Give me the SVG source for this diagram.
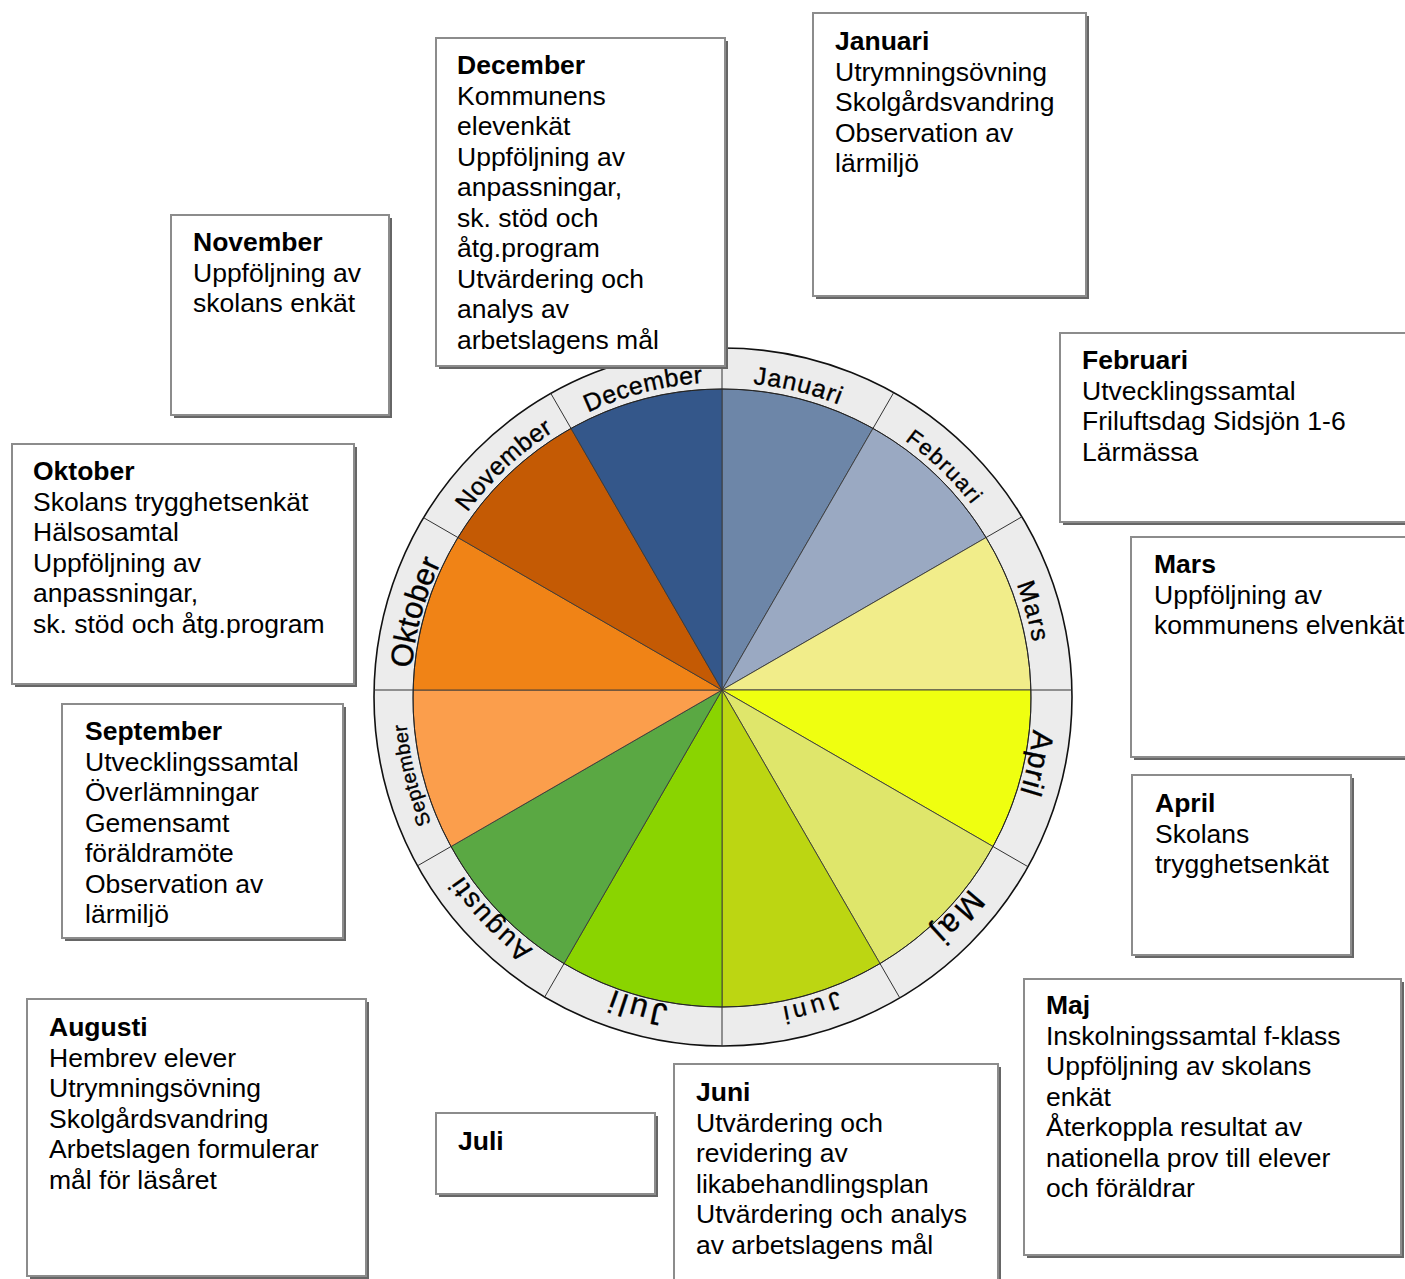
<svg xmlns="http://www.w3.org/2000/svg" xmlns:xlink="http://www.w3.org/1999/xlink" width="1405" height="1279" viewBox="0 0 1405 1279">
<style>
.box{fill:#fff;stroke:#8c8c8c;stroke-width:2}
.shadow{fill:#666}
.bt{font-family:"Liberation Sans",Arial,sans-serif;font-size:26.5px;fill:#000}
.bt .h{font-weight:bold}
.slice{stroke:#3a3a3a;stroke-width:0.9}
.div{stroke:#333;stroke-width:1}
.lbl{font-family:"Liberation Sans",Arial,sans-serif;fill:#000;stroke:#000;stroke-width:0.35;text-anchor:middle}
</style>
<defs>
<path id="r312" d="M722.5,385.5 A312,312 0 1 1 722.5,1009.5 A312,312 0 1 1 722.5,385.5"/>
<path id="r315" d="M722.5,382.5 A315,315 0 1 1 722.5,1012.5 A315,315 0 1 1 722.5,382.5"/>
<path id="r317" d="M722.5,380.5 A317,317 0 1 1 722.5,1014.5 A317,317 0 1 1 722.5,380.5"/>
<clipPath id="clipSep"><rect x="62" y="704" width="281" height="223"/></clipPath>
</defs>
<rect width="1405" height="1279" fill="#fff"/>

<g id="wheel">
<circle cx="723" cy="697" r="349" fill="#ececec" stroke="#111" stroke-width="1.6"/>
<g id="slices" class="slice">
<path id="s-jan" fill="#6d86a8" d="M722,690 L722,389 A309,309 0 0 1 873,428.4 Z"/>
<path id="s-feb" fill="#9aa9c2" d="M722,690 L873,428.4 A309,309 0 0 1 986.1,537.5 Z"/>
<path id="s-mar" fill="#f1ed8a" d="M722,690 L986.1,537.5 A309,309 0 0 1 1030.9,690 Z"/>
<path id="s-apr" fill="#efff10" d="M722,690 L1030.9,690 A309,309 0 0 1 993,846.5 Z"/>
<path id="s-maj" fill="#dfe66b" d="M722,690 L993,846.5 A309,309 0 0 1 880,963.6 Z"/>
<path id="s-jun" fill="#bcd612" d="M722,690 L880,963.6 A309,309 0 0 1 722,1007 Z"/>
<path id="s-jul" fill="#8ad400" d="M722,690 L722,1007 A309,309 0 0 1 564,963.6 Z"/>
<path id="s-aug" fill="#5aa843" d="M722,690 L564,963.6 A309,309 0 0 1 451,846.5 Z"/>
<path id="s-sep" fill="#fb9e4c" d="M722,690 L451,846.5 A309,309 0 0 1 413.1,690 Z"/>
<path id="s-okt" fill="#f08316" d="M722,690 L413.1,690 A309,309 0 0 1 457.9,537.5 Z"/>
<path id="s-nov" fill="#c45a04" d="M722,690 L457.9,537.5 A309,309 0 0 1 571,428.4 Z"/>
<path id="s-dec" fill="#34578a" d="M722,690 L571,428.4 A309,309 0 0 1 722,389 Z"/>
</g>
<circle cx="722" cy="698" r="309" fill="none" stroke="#222" stroke-width="1"/>
<g id="ring-dividers" class="div">
<line x1="722" y1="389" x2="722" y2="348"/>
<line x1="873" y1="428.4" x2="893.7" y2="392.6"/>
<line x1="986.1" y1="537.5" x2="1021.9" y2="516.8"/>
<line x1="1030.9" y1="690" x2="1071.9" y2="690"/>
<line x1="993" y1="846.5" x2="1028" y2="866.7"/>
<line x1="880" y1="963.6" x2="899.8" y2="997.9"/>
<line x1="722" y1="1007" x2="722" y2="1046"/>
<line x1="564" y1="963.6" x2="544.7" y2="997"/>
<line x1="451" y1="846.5" x2="417.5" y2="865.8"/>
<line x1="413.1" y1="690" x2="374.1" y2="690"/>
<line x1="457.9" y1="537.5" x2="423.6" y2="517.7"/>
<line x1="571" y1="428.4" x2="550.8" y2="393.4"/>
</g>
<g id="ring-labels" class="lbl">
<text font-size="25" letter-spacing="1"><textPath href="#r315" xlink:href="#r315" startOffset="3.8%">Januari</textPath></text>
<text font-size="22" letter-spacing="1.5"><textPath href="#r315" xlink:href="#r315" startOffset="12.2%">Februari</textPath></text>
<text font-size="25" letter-spacing="1.5"><textPath href="#r315" xlink:href="#r315" startOffset="20.7%">Mars</textPath></text>
<text font-size="30" letter-spacing="1"><textPath href="#r312" xlink:href="#r312" startOffset="28.3%">April</textPath></text>
<text font-size="32" letter-spacing="3"><textPath href="#r312" xlink:href="#r312" startOffset="37%">Maj</textPath></text>
<text font-size="25" letter-spacing="4"><textPath href="#r315" xlink:href="#r315" startOffset="45.6%">Juni</textPath></text>
<text font-size="32" letter-spacing="3"><textPath href="#r312" xlink:href="#r312" startOffset="54.3%">Juli</textPath></text>
<text font-size="27" letter-spacing="2"><textPath href="#r315" xlink:href="#r315" startOffset="62.9%">Augusti</textPath></text>
<text font-size="20" letter-spacing="0.5"><textPath href="#r317" xlink:href="#r317" startOffset="71.1%">September</textPath></text>
<text font-size="31" letter-spacing="0"><textPath href="#r312" xlink:href="#r312" startOffset="79.3%">Oktober</textPath></text>
<text font-size="25" letter-spacing="0.5"><textPath href="#r315" xlink:href="#r315" startOffset="88%">November</textPath></text>
<text font-size="25" letter-spacing="0.5"><textPath href="#r315" xlink:href="#r315" startOffset="96%">December</textPath></text>
</g>
</g>

<g id="connectors"></g>

<g id="box-januari">
<rect class="shadow" x="816" y="16" width="273" height="283"/>
<rect class="box" x="813" y="13" width="273" height="283"/>
<text class="bt" x="835" y="50"><tspan class="h">Januari</tspan><tspan x="835" dy="30.5">Utrymningsövning</tspan><tspan x="835" dy="30.5">Skolgårdsvandring</tspan><tspan x="835" dy="30.5">Observation av</tspan><tspan x="835" dy="30.5">lärmiljö</tspan></text>
</g>

<g id="box-december">
<rect class="shadow" x="439" y="41" width="289" height="328"/>
<rect class="box" x="436" y="38" width="289" height="328"/>
<text class="bt" x="457" y="74"><tspan class="h">December</tspan><tspan x="457" dy="30.5">Kommunens</tspan><tspan x="457" dy="30.5">elevenkät</tspan><tspan x="457" dy="30.5">Uppföljning av</tspan><tspan x="457" dy="30.5">anpassningar,</tspan><tspan x="457" dy="30.5">sk. stöd och</tspan><tspan x="457" dy="30.5">åtg.program</tspan><tspan x="457" dy="30.5">Utvärdering och</tspan><tspan x="457" dy="30.5">analys av</tspan><tspan x="457" dy="30.5">arbetslagens mål</tspan></text>
</g>

<g id="box-november">
<rect class="shadow" x="174" y="218" width="218" height="200"/>
<rect class="box" x="171" y="215" width="218" height="200"/>
<text class="bt" x="193" y="251"><tspan class="h">November</tspan><tspan x="193" dy="30.5">Uppföljning av</tspan><tspan x="193" dy="30.5">skolans enkät</tspan></text>
</g>

<g id="box-oktober">
<rect class="shadow" x="15" y="447" width="342" height="240"/>
<rect class="box" x="12" y="444" width="342" height="240"/>
<text class="bt" x="33" y="480"><tspan class="h">Oktober</tspan><tspan x="33" dy="30.5">Skolans trygghetsenkät</tspan><tspan x="33" dy="30.5">Hälsosamtal</tspan><tspan x="33" dy="30.5">Uppföljning av</tspan><tspan x="33" dy="30.5">anpassningar,</tspan><tspan x="33" dy="30.5">sk. stöd och åtg.program</tspan></text>
</g>

<g id="box-september">
<rect class="shadow" x="65" y="707" width="281" height="234"/>
<rect class="box" x="62" y="704" width="281" height="234"/>
<text class="bt" x="85" y="740" clip-path="url(#clipSep)"><tspan class="h">September</tspan><tspan x="85" dy="30.5">Utvecklingssamtal</tspan><tspan x="85" dy="30.5">Överlämningar</tspan><tspan x="85" dy="30.5">Gemensamt</tspan><tspan x="85" dy="30.5">föräldramöte</tspan><tspan x="85" dy="30.5">Observation av</tspan><tspan x="85" dy="30.5">lärmiljö</tspan></text>
</g>

<g id="box-augusti">
<rect class="shadow" x="30" y="1002" width="339" height="277"/>
<rect class="box" x="27" y="999" width="339" height="277"/>
<text class="bt" x="49" y="1036"><tspan class="h">Augusti</tspan><tspan x="49" dy="30.5">Hembrev elever</tspan><tspan x="49" dy="30.5">Utrymningsövning</tspan><tspan x="49" dy="30.5">Skolgårdsvandring</tspan><tspan x="49" dy="30.5">Arbetslagen formulerar</tspan><tspan x="49" dy="30.5">mål för läsåret</tspan></text>
</g>

<g id="box-juli">
<rect class="shadow" x="439" y="1116" width="219" height="81"/>
<rect class="box" x="436" y="1113" width="219" height="81"/>
<text class="bt" x="458" y="1150"><tspan class="h">Juli</tspan></text>
</g>

<g id="box-juni">
<rect class="shadow" x="677" y="1067" width="324" height="230"/>
<rect class="box" x="674" y="1064" width="324" height="230"/>
<text class="bt" x="696" y="1101"><tspan class="h">Juni</tspan><tspan x="696" dy="30.5">Utvärdering och</tspan><tspan x="696" dy="30.5">revidering av</tspan><tspan x="696" dy="30.5">likabehandlingsplan</tspan><tspan x="696" dy="30.5">Utvärdering och analys</tspan><tspan x="696" dy="30.5">av arbetslagens mål</tspan></text>
</g>

<g id="box-maj">
<rect class="shadow" x="1027" y="982" width="377" height="276"/>
<rect class="box" x="1024" y="979" width="377" height="276"/>
<text class="bt" x="1046" y="1014"><tspan class="h">Maj</tspan><tspan x="1046" dy="30.5">Inskolningssamtal f-klass</tspan><tspan x="1046" dy="30.5">Uppföljning av skolans</tspan><tspan x="1046" dy="30.5">enkät</tspan><tspan x="1046" dy="30.5">Återkoppla resultat av</tspan><tspan x="1046" dy="30.5">nationella prov till elever</tspan><tspan x="1046" dy="30.5">och föräldrar</tspan></text>
</g>

<g id="box-april">
<rect class="shadow" x="1135" y="778" width="219" height="180"/>
<rect class="box" x="1132" y="775" width="219" height="180"/>
<text class="bt" x="1155" y="812"><tspan class="h">April</tspan><tspan x="1155" dy="30.5">Skolans</tspan><tspan x="1155" dy="30.5">trygghetsenkät</tspan></text>
</g>

<g id="box-mars">
<rect class="shadow" x="1134" y="540" width="300" height="220"/>
<rect class="box" x="1131" y="537" width="300" height="220"/>
<text class="bt" x="1154" y="573"><tspan class="h">Mars</tspan><tspan x="1154" dy="30.5">Uppföljning av</tspan><tspan x="1154" dy="30.5">kommunens elvenkät</tspan></text>
</g>

<g id="box-februari">
<rect class="shadow" x="1063" y="336" width="370" height="189"/>
<rect class="box" x="1060" y="333" width="370" height="189"/>
<text class="bt" x="1082" y="369"><tspan class="h">Februari</tspan><tspan x="1082" dy="30.5">Utvecklingssamtal</tspan><tspan x="1082" dy="30.5">Friluftsdag Sidsjön 1-6</tspan><tspan x="1082" dy="30.5">Lärmässa</tspan></text>
</g>
</svg>
